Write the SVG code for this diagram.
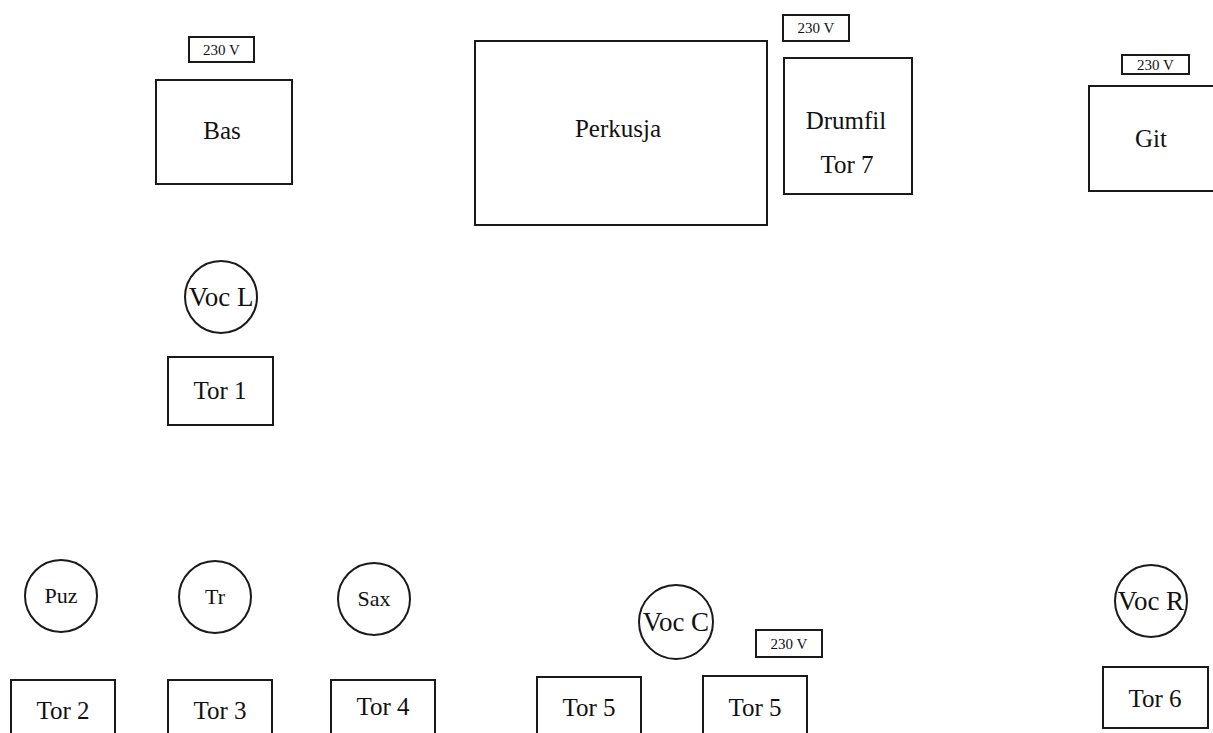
<svg xmlns="http://www.w3.org/2000/svg" width="1213" height="733" viewBox="0 0 1213 733">
<style>
.box{fill:#fff;stroke:#1a1a1a;stroke-width:2}
.t{font-family:"Liberation Serif","Times New Roman",serif;fill:#111;text-anchor:middle}
.l{font-size:25px}
.v{font-size:27px}
.s{font-size:22px}
.p{font-size:15px}
</style>
<rect width="1213" height="733" fill="#fff"/>
<g id="bas-power"><rect class="box" x="189" y="37" width="65" height="25"/><text class="t p" x="221.5" y="55">230 V</text></g>
<g id="bas"><rect class="box" x="156" y="80" width="136" height="104"/><text class="t l" x="222" y="139">Bas</text></g>
<g id="perkusja"><rect class="box" x="475" y="41" width="292" height="184"/><text class="t l" x="618" y="137">Perkusja</text></g>
<g id="drumfil-power"><rect class="box" x="783" y="15" width="66" height="26"/><text class="t p" x="816" y="33">230 V</text></g>
<g id="drumfil"><rect class="box" x="784" y="58" width="128" height="136"/><text class="t l" x="846" y="129">Drumfil</text><text class="t l" x="847" y="173">Tor 7</text></g>
<g id="git-power"><rect class="box" x="1122" y="55" width="67" height="19"/><text class="t p" x="1155.5" y="69.5">230 V</text></g>
<g id="git"><rect class="box" x="1089" y="86" width="130" height="105"/><text class="t l" x="1151" y="147">Git</text></g>
<g id="voc-l"><circle class="box" cx="221" cy="297" r="36"/><text class="t v" x="221" y="306">Voc L</text></g>
<g id="tor1"><rect class="box" x="168" y="357" width="105" height="68"/><text class="t l" x="220" y="399">Tor 1</text></g>
<g id="puz"><circle class="box" cx="61" cy="596" r="36"/><text class="t s" x="61" y="603">Puz</text></g>
<g id="tr"><circle class="box" cx="215" cy="597" r="36"/><text class="t s" x="215" y="604">Tr</text></g>
<g id="sax"><circle class="box" cx="374" cy="599" r="36"/><text class="t s" x="374" y="606">Sax</text></g>
<g id="tor2"><rect class="box" x="11" y="680" width="104" height="70"/><text class="t l" x="63" y="719">Tor 2</text></g>
<g id="tor3"><rect class="box" x="168" y="680" width="104" height="70"/><text class="t l" x="220" y="719">Tor 3</text></g>
<g id="tor4"><rect class="box" x="331" y="680" width="104" height="70"/><text class="t l" x="383" y="715">Tor 4</text></g>
<g id="voc-c"><circle class="box" cx="676" cy="622" r="37"/><text class="t v" x="676" y="631">Voc C</text></g>
<g id="tor5a"><rect class="box" x="537" y="677" width="104" height="70"/><text class="t l" x="589" y="716">Tor 5</text></g>
<g id="tor5-power"><rect class="box" x="756" y="630" width="66" height="27"/><text class="t p" x="789" y="649">230 V</text></g>
<g id="tor5b"><rect class="box" x="703" y="676" width="104" height="70"/><text class="t l" x="755" y="716">Tor 5</text></g>
<g id="voc-r"><circle class="box" cx="1151" cy="601" r="36"/><text class="t v" x="1151" y="610">Voc R</text></g>
<g id="tor6"><rect class="box" x="1103" y="667" width="105" height="61"/><text class="t l" x="1155" y="707">Tor 6</text></g>
<g id="connectors"></g>
</svg>
